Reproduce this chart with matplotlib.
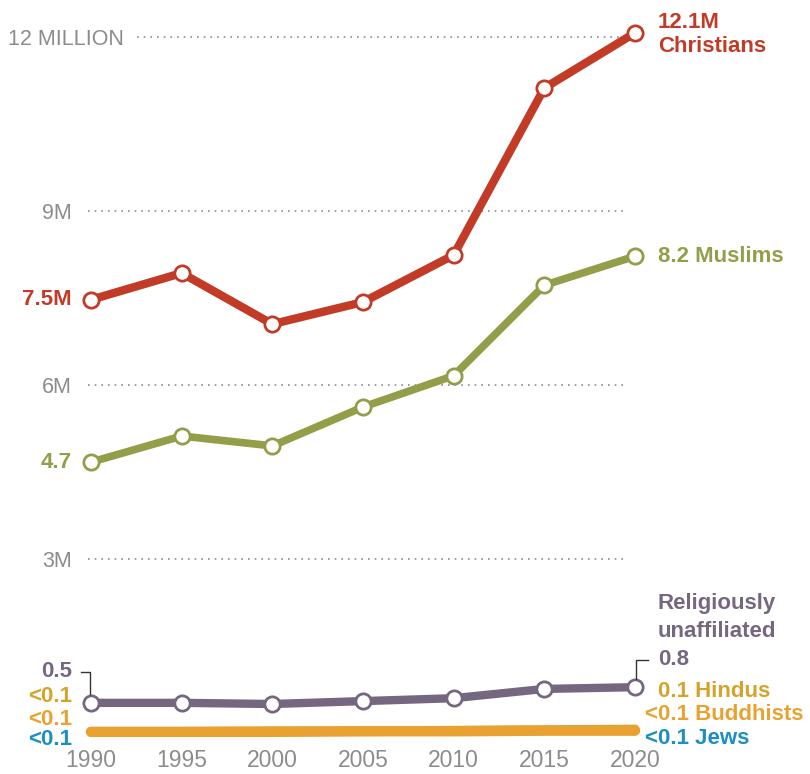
import matplotlib.pyplot as plt

years = [1990, 1995, 2000, 2005, 2010, 2015, 2020]
christians = [7.47, 7.93, 7.05, 7.43, 8.24, 11.12, 12.07]
muslims = [4.67, 5.12, 4.95, 5.62, 6.16, 7.72, 8.22]
unaffiliated = [0.52, 0.52, 0.50, 0.55, 0.60, 0.76, 0.79]
hindus = [0.02, 0.02, 0.03, 0.03, 0.04, 0.05, 0.06]
buddhists = [0.02, 0.02, 0.02, 0.03, 0.03, 0.04, 0.04]
jews = [0.02, 0.02, 0.02, 0.03, 0.03, 0.03, 0.03]
yticks = [3, 6, 9, 12]
ytick_labels = ['3M', '6M', '9M', '12 MILLION']

RED = '#C13B27'
OLIVE = '#949D48'
PURPLE = '#756780'
GOLD = '#D4A32A'
ORANGE = '#E9A231'
BLUE = '#1B8FC0'
GRAY = '#8C8C8D'

plt.rcParams['font.family'] = ['Liberation Sans', 'DejaVu Sans']

fig = plt.figure(figsize=(8.1, 7.74), dpi=100)
ax = fig.add_axes([0, 29 / 774, 1, 745 / 774])
ax.set_xlim(1990 - 91 / 18.133, 1990 + (810 - 91) / 18.133)
ax.set_ylim(-12 / 58, 733 / 58)
ax.axis('off')


def px(x):
    return 1990 + (x - 91) / 18.133


# dotted grid lines
for v, lab in zip(yticks, ytick_labels):
    start = 137 if v == 12 else 88
    ax.hlines(v, px(start), px(627), colors=GRAY, linestyles=(0, (1, 3)), linewidth=1.2)
    if v == 12:
        ax.text(px(8), v - 0.04, lab, ha='left', va='center', fontsize=15.5, color=GRAY)
    else:
        ax.text(px(72), v - 0.04, lab, ha='right', va='center', fontsize=15.5, color=GRAY)

# x labels
for y in years:
    ax.annotate(str(y), (y, ax.get_ylim()[0]), xytext=(0, -4), textcoords='offset pixels',
                ha='center', va='top', fontsize=16.5, color=GRAY, annotation_clip=False)

mk = dict(marker='o', markersize=11, markerfacecolor='white', markeredgewidth=2,
          solid_capstyle='round', solid_joinstyle='round')
ax.plot(years, jews, color=BLUE, linewidth=5, solid_capstyle='round')
ax.plot(years, hindus, color=GOLD, linewidth=7, solid_capstyle='round')
ax.plot(years, buddhists, color=ORANGE, linewidth=7.5, solid_capstyle='round')
ax.plot(years, unaffiliated, color=PURPLE, linewidth=6, **mk)
ax.plot(years, muslims, color=OLIVE, linewidth=5.5, **mk)
ax.plot(years, christians, color=RED, linewidth=6, **mk)


def lab(x, y, text, color, dx, dy, ha='left'):
    ax.annotate(text, (x, y), xytext=(dx, dy), textcoords='offset pixels',
                ha=ha, va='center', fontsize=16, fontweight='bold', color=color,
                annotation_clip=False)


# right labels
lab(2020, christians[-1], '12.1M', RED, 23, 10)
lab(2020, christians[-1], 'Christians', RED, 23, -14)
lab(2020, muslims[-1], '8.2 Muslims', OLIVE, 23, 0)
lab(2020, unaffiliated[-1], 'Religiously', PURPLE, 23, 84)
lab(2020, unaffiliated[-1], 'unaffiliated', PURPLE, 23, 56)
lab(2020, unaffiliated[-1], '0.8', PURPLE, 23, 28)
lab(2020, unaffiliated[-1], '0.1 Hindus', GOLD, 23, -4)
lab(2020, buddhists[-1], '<0.1 Buddhists', ORANGE, 10, 16)
lab(2020, buddhists[-1], '<0.1 Jews', BLUE, 10, -8)

# left labels
lab(1990, christians[0], '7.5M', RED, -19, 0, 'right')
lab(1990, muslims[0], '4.7', OLIVE, -19, 0, 'right')
lab(1990, unaffiliated[0], '0.5', PURPLE, -19, 31, 'right')
lab(1990, buddhists[0], '<0.1', GOLD, -19, 35, 'right')
lab(1990, buddhists[0], '<0.1', ORANGE, -19, 12, 'right')
lab(1990, buddhists[0], '<0.1', BLUE, -19, -8, 'right')

# leader lines
u0 = unaffiliated[0]
u1 = unaffiliated[-1]
ax.plot([px(81), px(90), px(90)], [u0 + 31 / 58, u0 + 31 / 58, u0 + 9 / 58],
        color='#333333', linewidth=1)
ax.plot([px(636), px(636), px(648)], [u1 + 8 / 58, u1 + 27 / 58, u1 + 27 / 58],
        color='#333333', linewidth=1)

fig.savefig('out.png', dpi=100)
